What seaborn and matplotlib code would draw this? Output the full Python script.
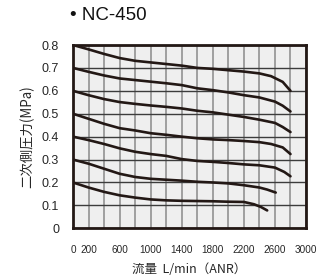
import numpy as np
import pandas as pd
import matplotlib
matplotlib.use('Agg')
import matplotlib.pyplot as plt
import seaborn as sns

# flow (L/min ANR) and secondary pressure (MPa), one pair per curve
flow_08 = [0, 200, 400, 600, 800, 1000, 1200, 1400, 1600, 1800, 2000, 2200, 2400, 2550, 2700, 2800]
pres_08 = [0.80, 0.781, 0.761, 0.743, 0.731, 0.724, 0.717, 0.710, 0.700, 0.696, 0.690, 0.684, 0.676, 0.664, 0.639, 0.600]

flow_07 = [0, 200, 400, 600, 800, 1000, 1200, 1400, 1600, 1800, 2000, 2200, 2400, 2600, 2700, 2800]
pres_07 = [0.70, 0.683, 0.667, 0.654, 0.647, 0.640, 0.633, 0.625, 0.611, 0.603, 0.593, 0.581, 0.571, 0.553, 0.535, 0.510]

flow_06 = [0, 200, 400, 600, 800, 1000, 1200, 1400, 1600, 1800, 2000, 2200, 2400, 2600, 2700, 2800]
pres_06 = [0.60, 0.581, 0.564, 0.551, 0.543, 0.536, 0.530, 0.523, 0.513, 0.506, 0.496, 0.486, 0.474, 0.460, 0.442, 0.420]

flow_05 = [0, 200, 400, 600, 800, 1000, 1200, 1400, 1600, 1800, 2000, 2200, 2400, 2550, 2700, 2800]
pres_05 = [0.50, 0.478, 0.456, 0.437, 0.427, 0.415, 0.408, 0.400, 0.393, 0.388, 0.385, 0.381, 0.376, 0.368, 0.353, 0.324]

flow_04 = [0, 200, 400, 600, 800, 1000, 1200, 1400, 1600, 1800, 2000, 2200, 2400, 2600, 2720, 2800]
pres_04 = [0.40, 0.385, 0.368, 0.349, 0.334, 0.324, 0.316, 0.302, 0.294, 0.290, 0.285, 0.279, 0.275, 0.265, 0.246, 0.227]

flow_03 = [0, 200, 400, 600, 800, 1000, 1200, 1400, 1600, 1800, 2000, 2200, 2400, 2500, 2610]
pres_03 = [0.30, 0.282, 0.260, 0.238, 0.224, 0.216, 0.212, 0.208, 0.203, 0.200, 0.196, 0.188, 0.178, 0.169, 0.156]

flow_02 = [0, 200, 400, 600, 800, 1000, 1200, 1400, 1600, 1800, 2000, 2200, 2330, 2420, 2500]
pres_02 = [0.20, 0.178, 0.159, 0.144, 0.134, 0.126, 0.122, 0.120, 0.119, 0.118, 0.116, 0.115, 0.105, 0.093, 0.078]

x_tick_labels = ['0', '200', '600', '1000', '1400', '1800', '2200', '2600', '3000']
y_tick_labels = ['0', '0.1', '0.2', '0.3', '0.4', '0.5', '0.6', '0.7', '0.8']

curves = {
    '0.8': (flow_08, pres_08), '0.7': (flow_07, pres_07), '0.6': (flow_06, pres_06),
    '0.5': (flow_05, pres_05), '0.4': (flow_04, pres_04), '0.3': (flow_03, pres_03),
    '0.2': (flow_02, pres_02),
}
df = pd.concat([pd.DataFrame({'flow': f, 'pres': p, 'set': k}) for k, (f, p) in curves.items()],
               ignore_index=True)

sns.set_style('white')
plt.rcParams['font.family'] = ['Liberation Sans', 'Noto Sans CJK JP', 'DejaVu Sans']

INK = '#231815'
fig = plt.figure(figsize=(3.18, 2.79), dpi=100)
ax = fig.add_axes([0.2296, 0.1817, 0.7327, 0.657])
ax.set_facecolor('#efefef')

sns.lineplot(data=df, x='flow', y='pres', hue='set', palette=[INK] * 7, legend=False,
             sort=False, estimator=None, linewidth=1.9, ax=ax, zorder=3)

ax.set_xlim(0, 3000)
ax.set_ylim(0, 0.8)

# gridlines every 200 L/min, labels only on some of them
ax.set_xticks(np.arange(0, 3001, 200))
xl = [str(v) if str(v) in x_tick_labels else '' for v in range(0, 3001, 200)]
ax.set_xticklabels(xl, fontsize=7.2, family=['Liberation Sans Narrow', 'Liberation Sans'])
ax.set_yticks(np.arange(0, 0.81, 0.1))
ax.set_yticklabels(y_tick_labels, fontsize=9)

ax.tick_params(axis='x', direction='in', length=2, width=1.2, color=INK, pad=12)
ax.tick_params(axis='y', length=0, pad=10)
ax.grid(axis='x', color='#8a8a8a', linewidth=1.1)
ax.grid(axis='y', color='#3c3c3c', linewidth=1.0)
ax.set_axisbelow(True)

for s in ax.spines.values():
    s.set_visible(True)
    s.set_color(INK)
    s.set_linewidth(2)
    s.set_zorder(4)

ax.set_xlabel('流量  L/min（ANR）', fontsize=9, labelpad=6,
              family=['Noto Sans CJK JP', 'DejaVu Sans'])
ax.set_ylabel('二次側圧力(MPa)', fontsize=9.6, labelpad=5,
              family=['Noto Sans CJK JP', 'DejaVu Sans'])

fig.text(0.34, 0.945, '• NC-450', fontsize=13.5, ha='center', va='center', color='#111111')

fig.savefig('out.png', dpi=100, facecolor='white')
